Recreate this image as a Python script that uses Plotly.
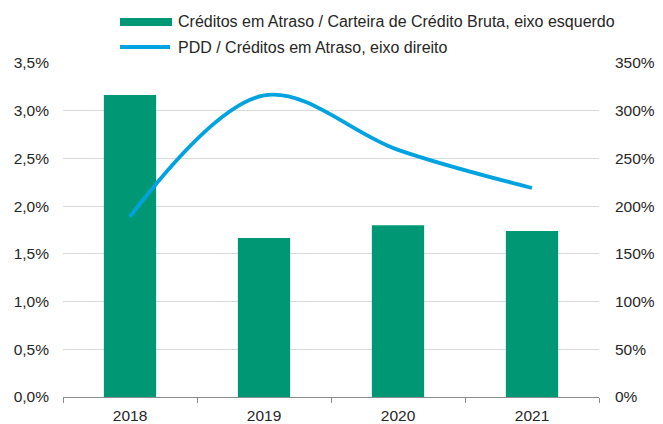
import plotly.graph_objects as go

anos = ["2018", "2019", "2020", "2021"]
creditos_atraso = [3.165, 1.665, 1.80, 1.74]   # % carteira bruta (eixo esquerdo)
pdd_atraso = [189, 316, 259, 219]              # % (eixo direito)
left_ticks = [0, 0.5, 1.0, 1.5, 2.0, 2.5, 3.0, 3.5]
left_labels = ["0,0%", "0,5%", "1,0%", "1,5%", "2,0%", "2,5%", "3,0%", "3,5%"]
right_ticks = [0, 50, 100, 150, 200, 250, 300, 350]
right_labels = ["0%", "50%", "100%", "150%", "200%", "250%", "300%", "350%"]
leg1 = "Créditos em Atraso / Carteira de Crédito Bruta, eixo esquerdo"
leg2 = "PDD / Créditos em Atraso, eixo direito"

GREEN = "#009874"
BLUE = "#00A3E0"
TXT = "#262626"
W, H = 663, 424
L, R, T, B = 63, 64, 63, 27
pw, ph = W - L - R, H - T - B

def px_x(x):
    return (x - L) / pw

def px_y(y):
    return (H - B - y) / ph

fig = go.Figure()
fig.add_trace(go.Bar(x=anos, y=creditos_atraso, marker=dict(color=GREEN, line=dict(width=0)),
                     width=0.39, yaxis="y", showlegend=False, hoverinfo="skip"))
fig.add_trace(go.Scatter(x=anos, y=pdd_atraso, mode="lines", yaxis="y2",
                         line=dict(color=BLUE, width=3.8, shape="spline", smoothing=1.0),
                         showlegend=False, hoverinfo="skip"))

tick_font = dict(family="Liberation Sans, Arial, sans-serif", size=15.5, color=TXT)
leg_font = dict(family="Liberation Sans, Arial, sans-serif", size=16, color=TXT)

fig.update_layout(
    width=W, height=H,
    margin=dict(l=L, r=R, t=T, b=B, pad=0, autoexpand=False),
    paper_bgcolor="white", plot_bgcolor="white",
    font=tick_font,
    xaxis=dict(type="category", showgrid=False, showline=True, linecolor="#8c8c8c", linewidth=1,
               ticks="outside", tickson="boundaries", ticklen=5, tickcolor="#8c8c8c",
               tickfont=tick_font, range=[-0.5, 3.5], automargin=False, ticklabelstandoff=4),
    yaxis=dict(range=[0, 3.5], tickmode="array", tickvals=left_ticks, ticktext=left_labels,
               showgrid=True, gridcolor="#d9d9d9", gridwidth=1, zeroline=False,
               showline=False, tickfont=tick_font, ticklabelstandoff=13, automargin=False),
    yaxis2=dict(range=[0, 350], tickmode="array", tickvals=right_ticks, ticktext=right_labels,
                overlaying="y", side="right",
                showgrid=False, zeroline=False, showline=False, tickfont=tick_font,
                ticklabelstandoff=15, automargin=False),
    shapes=[
        dict(type="rect", xref="paper", yref="paper", x0=px_x(120), x1=px_x(172),
             y0=px_y(26), y1=px_y(18), fillcolor=GREEN, line=dict(width=0)),
        dict(type="line", xref="paper", yref="paper", x0=px_x(120), x1=px_x(170),
             y0=px_y(47), y1=px_y(47), line=dict(color=BLUE, width=4)),
    ],
    annotations=[
        dict(text=leg1, xref="paper", yref="paper", x=px_x(176), y=px_y(22), xanchor="left",
             yanchor="middle", showarrow=False, font=leg_font),
        dict(text=leg2, xref="paper", yref="paper", x=px_x(176), y=px_y(47), xanchor="left",
             yanchor="middle", showarrow=False, font=leg_font),
    ],
)

fig.write_html("out.html", config={"displayModeBar": False, "staticPlot": True},
               post_script="document.body.style.margin='0';")
